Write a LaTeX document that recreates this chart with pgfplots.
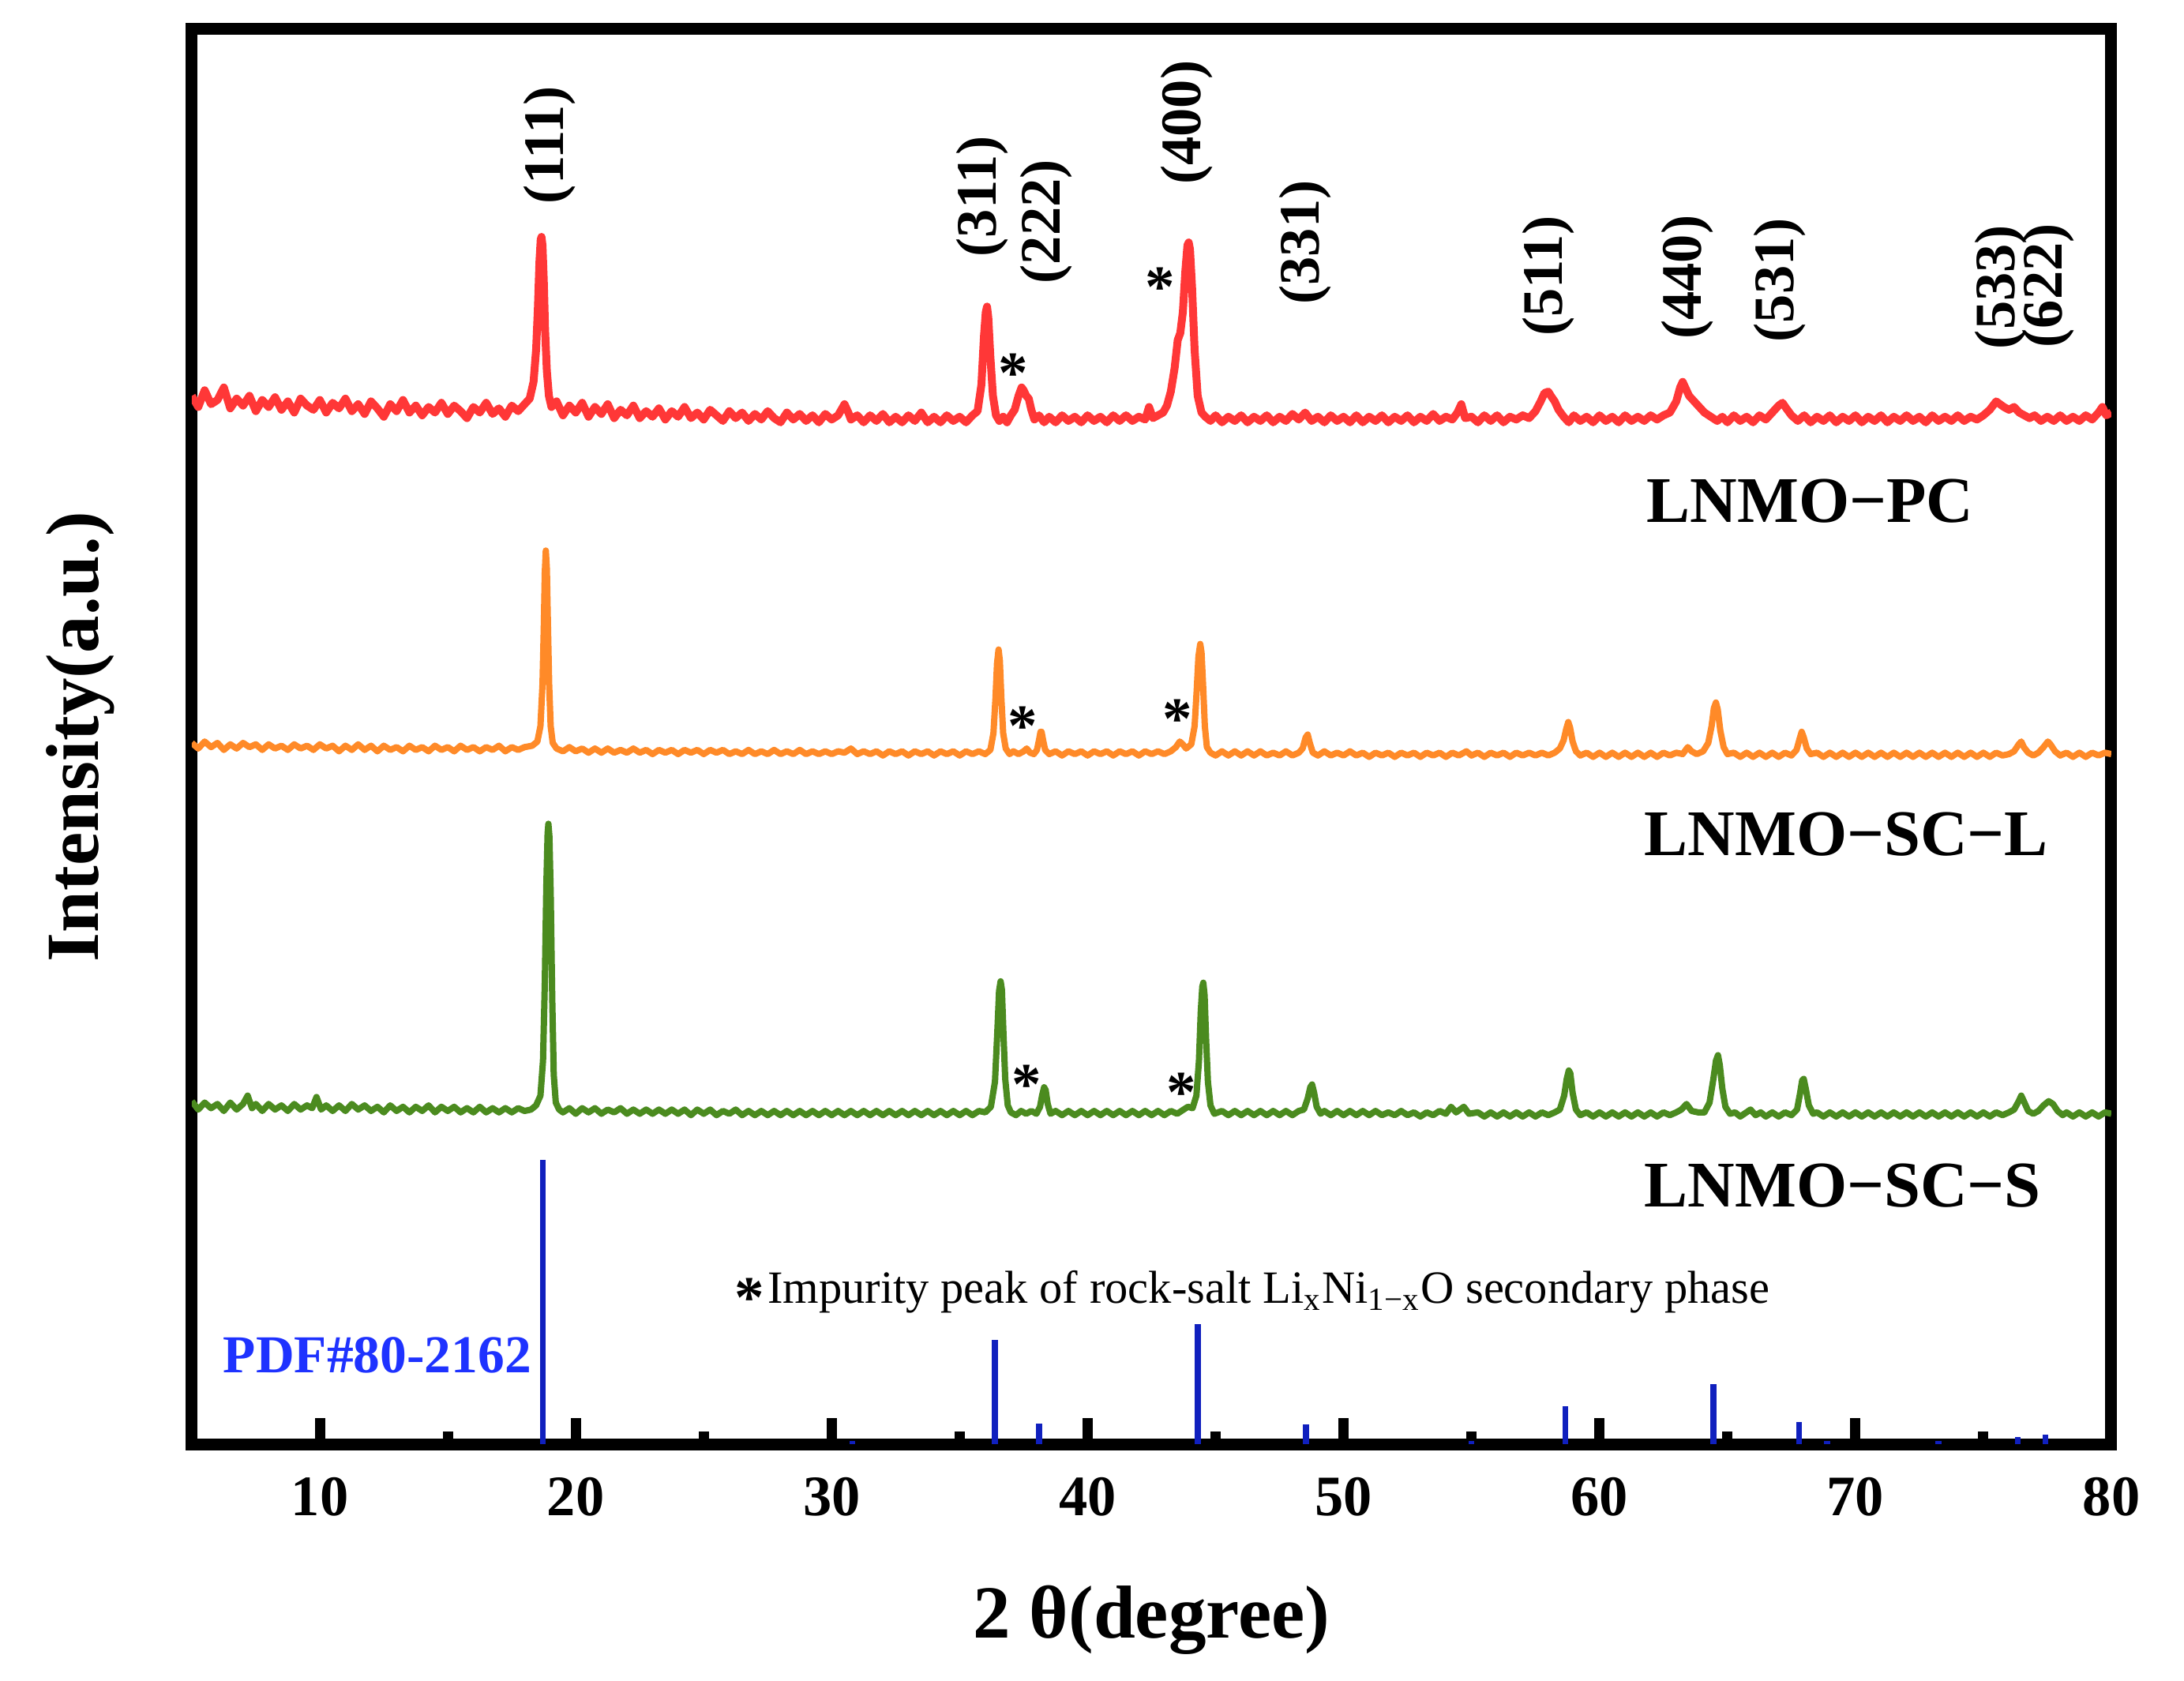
\documentclass[border=0pt]{standalone}
\usepackage{pgfplots}
\pgfplotsset{compat=1.18}
\usepackage{fontspec}
\setmainfont{Liberation Serif}
\definecolor{cred}{RGB}{255,55,55}
\definecolor{corange}{RGB}{255,138,40}
\definecolor{cgreen}{RGB}{75,139,31}
\definecolor{cstick}{RGB}{16,32,190}
\definecolor{cpdf}{RGB}{30,50,255}
\begin{document}
\begin{tikzpicture}
\path[use as bounding box] (-48.6pt,-59.8pt) rectangle (504.6pt,365.8pt);
\begin{axis}[
  scale only axis, width=486.2pt, height=358.4pt,
  xmin=5, xmax=80, ymin=0, ymax=1015,
  axis line style={line width=3pt},
  xtick={10,20,...,80}, minor xtick={15,25,...,75},
  ytick=\empty,
  tick align=inside, xtick pos=bottom,
  major tick length=6.6pt, minor tick length=3.2pt,
  every tick/.style={black, line width=2.6pt},
  /pgf/number format/assume math mode=true,
  xticklabel style={font=\fontsize{14.5}{17}\selectfont\bfseries, yshift=-5pt},
  xlabel={2 θ(degree)},
  xlabel style={font=\fontsize{19}{22}\selectfont\bfseries, at={(axis description cs:0.5,-0.1244)}, anchor=center},
  ylabel={Intensity(a.u.)},
  ylabel style={font=\fontsize{19}{22}\selectfont\bfseries, at={(axis description cs:-0.058,0.5)}, anchor=center},
  every axis plot/.append style={line join=round},
]
% PDF#80-2162 reference sticks
\addplot[ycomb, cstick, line width=1.5pt] coordinates {
(18.72,204)(30.8,2)(36.37,75)(38.1,15)(44.3,86)(48.53,14)(55.0,2)(58.67,27)(64.45,43)(67.8,16)(68.9,2)(73.25,2)(76.35,5)(77.42,7)};
% LNMO-SC-S (green)
\addplot[cgreen, line width=1.6pt] coordinates {
(5.00,246)(5.25,240)(5.50,245)(5.75,241)(6.00,244)(6.25,239)(6.50,245)(6.75,240)(7.00,244)(7.18,250)(7.35,241)(7.50,244)(7.75,239)(8.00,244)(8.25,240)(8.50,243)(8.75,239)(9.00,244)(9.25,240)(9.50,243)(9.70,241)(9.87,249)(10.05,240)(10.25,243)(10.50,239)(10.75,243)(11.00,239)(11.25,244)(11.50,240)(11.75,243)(12.00,239)(12.25,242)(12.50,238)(12.75,243)(13.00,239)(13.25,242)(13.50,238)(13.75,242)(14.00,239)(14.25,243)(14.50,238)(14.75,242)(15.00,239)(15.25,242)(15.50,238)(15.75,241)(16.00,238)(16.25,242)(16.50,238)(16.75,241)(17.00,238)(17.25,241)(17.50,238)(17.75,241)(18.00,239)(18.25,240)(18.45,243)(18.62,250)(18.72,275)(18.79,330)(18.85,400)(18.90,438)(18.93,445)(18.97,436)(19.02,395)(19.08,320)(19.14,265)(19.22,245)(19.35,240)(19.50,238)(19.75,241)(20.00,237)(20.25,241)(20.50,238)(20.75,241)(21.00,237)(21.25,240)(21.50,238)(21.75,241)(22.00,237)(22.25,240)(22.50,237)(22.75,240)(23.00,237)(23.25,240)(23.50,237)(23.75,240)(24.00,237)(24.25,240)(24.50,236)(24.75,240)(25.00,237)(25.25,240)(25.50,236)(25.75,239)(26.00,237)(26.25,240)(26.50,236)(26.75,239)(27.00,236)(27.25,239)(27.50,236)(27.75,239)(28.00,236)(28.25,239)(28.50,236)(28.75,239)(29.00,236)(29.25,239)(29.50,236)(29.75,239)(30.00,236)(30.25,239)(30.50,236)(30.75,239)(31.00,236)(31.25,239)(31.50,236)(31.75,239)(32.00,236)(32.25,239)(32.50,236)(32.75,239)(33.00,236)(33.25,239)(33.50,236)(33.75,239)(34.00,236)(34.25,239)(34.50,236)(34.75,239)(35.00,236)(35.25,239)(35.50,236)(35.75,239)(36.00,238)(36.22,242)(36.38,260)(36.47,295)(36.54,325)(36.60,332)(36.65,326)(36.71,295)(36.78,262)(36.88,243)(37.00,238)(37.20,236)(37.40,239)(37.60,237)(37.80,239)(38.00,237)(38.14,242)(38.22,250)(38.30,256)(38.36,254)(38.44,244)(38.55,237)(38.75,239)(39.00,236)(39.25,239)(39.50,236)(39.75,239)(40.00,236)(40.25,239)(40.50,236)(40.75,239)(41.00,236)(41.25,239)(41.50,236)(41.75,239)(42.00,236)(42.25,239)(42.50,236)(42.75,239)(43.00,236)(43.25,239)(43.50,237)(43.75,240)(43.92,242)(44.10,241)(44.25,250)(44.35,275)(44.42,310)(44.48,328)(44.52,331)(44.57,322)(44.63,290)(44.70,260)(44.80,243)(44.95,237)(45.25,239)(45.50,236)(45.75,239)(46.00,236)(46.25,239)(46.50,236)(46.75,239)(47.00,236)(47.25,239)(47.50,236)(47.75,239)(48.00,236)(48.25,239)(48.45,240)(48.60,248)(48.70,256)(48.77,258)(48.85,252)(48.95,242)(49.10,237)(49.25,239)(49.50,236)(49.75,239)(50.00,236)(50.25,239)(50.50,236)(50.75,239)(51.00,236)(51.25,239)(51.50,236)(51.75,238)(52.00,236)(52.25,239)(52.50,236)(52.75,238)(53.00,235)(53.25,238)(53.50,236)(53.75,239)(54.00,237)(54.20,242)(54.40,238)(54.70,242)(54.90,237)(55.25,238)(55.50,235)(55.75,238)(56.00,235)(56.25,238)(56.50,235)(56.75,238)(57.00,235)(57.25,238)(57.50,235)(57.75,238)(58.00,236)(58.25,238)(58.45,240)(58.62,250)(58.72,262)(58.80,268)(58.86,266)(58.95,252)(59.08,240)(59.25,236)(59.50,238)(59.75,235)(60.00,238)(60.25,235)(60.50,238)(60.75,235)(61.00,238)(61.25,235)(61.50,238)(61.75,235)(62.00,238)(62.25,235)(62.50,238)(62.75,236)(63.00,238)(63.20,240)(63.40,244)(63.60,239)(63.85,238)(64.10,238)(64.30,245)(64.45,262)(64.55,275)(64.63,279)(64.70,272)(64.80,255)(64.92,242)(65.10,237)(65.30,238)(65.50,235)(65.90,240)(66.10,236)(66.30,238)(66.50,235)(66.75,238)(67.00,235)(67.25,238)(67.50,236)(67.72,240)(67.84,252)(67.92,261)(67.98,262)(68.06,255)(68.18,243)(68.35,237)(68.50,238)(68.75,235)(69.00,238)(69.25,235)(69.50,238)(69.75,235)(70.00,238)(70.25,235)(70.50,238)(70.75,235)(71.00,238)(71.25,235)(71.50,238)(71.75,235)(72.00,238)(72.25,235)(72.50,238)(72.75,235)(73.00,238)(73.25,235)(73.50,238)(73.75,235)(74.00,238)(74.25,235)(74.50,238)(74.75,235)(75.00,238)(75.25,235)(75.50,238)(75.75,236)(76.00,238)(76.20,240)(76.38,246)(76.48,250)(76.58,246)(76.75,239)(76.95,237)(77.15,239)(77.35,243)(77.55,246)(77.72,244)(77.90,239)(78.10,236)(78.25,238)(78.50,235)(78.75,238)(79.00,235)(79.25,238)(79.50,235)(79.75,238)(80.00,237)};
% LNMO-SC-L (orange)
\addplot[corange, line width=1.6pt] coordinates {
(5.00,503)(5.25,499)(5.50,504)(5.75,500)(6.00,503)(6.25,498)(6.50,502)(6.75,499)(7.00,503)(7.25,500)(7.50,502)(7.75,498)(8.00,502)(8.25,499)(8.50,501)(8.75,498)(9.00,502)(9.25,499)(9.50,501)(9.75,498)(10.00,502)(10.25,499)(10.50,501)(10.75,497)(11.00,501)(11.25,498)(11.50,502)(11.75,498)(12.00,501)(12.25,497)(12.50,501)(12.75,498)(13.00,500)(13.25,497)(13.50,501)(13.75,498)(14.00,500)(14.25,497)(14.50,501)(14.75,498)(15.00,500)(15.25,497)(15.50,501)(15.75,498)(16.00,500)(16.25,497)(16.50,500)(16.75,498)(17.00,501)(17.25,497)(17.50,500)(17.75,498)(18.00,500)(18.30,501)(18.50,504)(18.62,515)(18.70,545)(18.75,585)(18.79,625)(18.83,641)(18.87,628)(18.91,590)(18.96,545)(19.02,515)(19.10,503)(19.25,499)(19.50,497)(19.75,500)(20.00,497)(20.25,499)(20.50,496)(20.75,499)(21.00,496)(21.25,499)(21.50,496)(21.75,498)(22.00,496)(22.25,499)(22.50,496)(22.75,498)(23.00,495)(23.25,498)(23.50,496)(23.75,498)(24.00,495)(24.25,498)(24.50,496)(24.75,498)(25.00,495)(25.25,498)(25.50,496)(25.75,498)(26.00,495)(26.25,497)(26.50,495)(26.75,498)(27.00,495)(27.25,497)(27.50,495)(27.75,498)(28.00,495)(28.25,497)(28.50,495)(28.75,498)(29.00,495)(29.25,497)(29.50,495)(29.75,497)(30.00,495)(30.25,497)(30.50,496)(30.75,499)(31.00,495)(31.25,497)(31.50,495)(31.75,497)(32.00,494)(32.25,497)(32.50,495)(32.75,497)(33.00,494)(33.25,497)(33.50,495)(33.75,497)(34.00,494)(34.25,497)(34.50,495)(34.75,497)(35.00,494)(35.25,497)(35.50,495)(35.75,497)(36.00,495)(36.20,498)(36.32,510)(36.40,535)(36.46,560)(36.52,570)(36.57,562)(36.63,535)(36.70,510)(36.80,499)(36.95,495)(37.10,497)(37.30,495)(37.50,497)(37.62,499)(37.75,496)(37.90,495)(38.02,498)(38.10,505)(38.16,511)(38.20,511)(38.26,505)(38.34,498)(38.50,495)(38.75,497)(39.00,494)(39.25,497)(39.50,495)(39.75,497)(40.00,494)(40.25,497)(40.50,495)(40.75,497)(41.00,494)(41.25,497)(41.50,495)(41.75,497)(42.00,494)(42.25,497)(42.50,495)(42.75,497)(43.00,495)(43.25,497)(43.45,500)(43.60,504)(43.72,502)(43.85,499)(44.05,502)(44.18,515)(44.26,540)(44.33,565)(44.40,574)(44.45,568)(44.51,545)(44.58,515)(44.66,500)(44.80,496)(45.00,494)(45.25,497)(45.50,494)(45.75,497)(46.00,494)(46.25,497)(46.50,494)(46.75,497)(47.00,494)(47.25,496)(47.50,494)(47.75,497)(48.00,494)(48.25,496)(48.40,499)(48.52,507)(48.60,509)(48.68,503)(48.80,496)(49.00,494)(49.25,497)(49.50,494)(49.75,496)(50.00,494)(50.25,497)(50.50,494)(50.75,496)(51.00,493)(51.25,496)(51.50,494)(51.75,496)(52.00,493)(52.25,496)(52.50,494)(52.75,496)(53.00,493)(53.25,496)(53.50,494)(53.75,496)(54.00,493)(54.25,496)(54.50,494)(54.80,497)(55.00,494)(55.25,496)(55.50,493)(55.75,496)(56.00,494)(56.25,496)(56.50,493)(56.75,496)(57.00,494)(57.25,496)(57.50,494)(57.75,496)(58.00,494)(58.25,496)(58.45,499)(58.60,505)(58.70,513)(58.78,518)(58.85,514)(58.95,504)(59.08,497)(59.25,494)(59.50,496)(59.75,493)(60.00,496)(60.25,493)(60.50,496)(60.75,493)(61.00,496)(61.25,493)(61.50,496)(61.75,493)(62.00,496)(62.25,493)(62.50,496)(62.75,494)(63.00,496)(63.25,495)(63.45,500)(63.60,497)(63.80,495)(64.05,497)(64.25,503)(64.38,515)(64.47,528)(64.55,532)(64.62,527)(64.72,512)(64.85,500)(65.00,495)(65.25,496)(65.50,493)(65.75,496)(66.00,493)(66.25,496)(66.50,493)(66.75,496)(67.00,493)(67.25,496)(67.50,494)(67.70,498)(67.82,506)(67.90,511)(67.98,507)(68.10,499)(68.25,495)(68.50,496)(68.75,493)(69.00,496)(69.25,493)(69.50,496)(69.75,493)(70.00,496)(70.25,493)(70.50,496)(70.75,493)(71.00,496)(71.25,493)(71.50,496)(71.75,493)(72.00,496)(72.25,493)(72.50,496)(72.75,493)(73.00,496)(73.25,493)(73.50,496)(73.75,493)(74.00,496)(74.25,493)(74.50,496)(74.75,493)(75.00,496)(75.25,493)(75.50,496)(75.75,494)(76.00,495)(76.20,497)(76.38,502)(76.48,504)(76.58,500)(76.75,496)(76.95,494)(77.15,496)(77.35,500)(77.52,504)(77.62,502)(77.80,497)(78.00,494)(78.25,496)(78.50,493)(78.75,496)(79.00,493)(79.25,496)(79.50,494)(79.75,496)(80.00,495)};
% LNMO-PC (red)
\addplot[cred, line width=2pt] coordinates {
(5.00,752)(5.25,744)(5.50,756)(5.75,746)(6.00,749)(6.25,758)(6.50,743)(6.75,750)(7.00,745)(7.25,752)(7.50,741)(7.75,749)(8.00,744)(8.25,751)(8.50,742)(8.75,748)(9.00,740)(9.25,750)(9.50,745)(9.75,742)(10.00,749)(10.25,740)(10.50,747)(10.75,743)(11.00,750)(11.25,741)(11.50,746)(11.75,739)(12.00,748)(12.25,743)(12.50,737)(12.75,746)(13.00,741)(13.25,749)(13.50,740)(13.75,745)(14.00,738)(14.25,744)(14.50,740)(14.75,747)(15.00,739)(15.25,745)(15.50,741)(15.75,736)(16.00,744)(16.25,740)(16.50,747)(16.75,739)(17.00,743)(17.25,737)(17.50,745)(17.75,741)(18.00,746)(18.20,750)(18.35,762)(18.45,785)(18.52,815)(18.58,848)(18.63,864)(18.66,866)(18.70,860)(18.75,835)(18.80,800)(18.87,770)(18.95,752)(19.05,744)(19.25,748)(19.50,738)(19.75,745)(20.00,740)(20.25,747)(20.50,737)(20.75,744)(21.00,739)(21.25,746)(21.50,736)(21.75,742)(22.00,738)(22.25,745)(22.50,736)(22.75,741)(23.00,737)(23.25,743)(23.50,735)(23.75,741)(24.00,737)(24.25,744)(24.50,736)(24.75,740)(25.00,735)(25.25,742)(25.50,738)(25.75,734)(26.00,741)(26.25,736)(26.50,740)(26.75,734)(27.00,739)(27.25,735)(27.50,741)(27.75,736)(28.00,733)(28.25,740)(28.50,735)(28.75,739)(29.00,734)(29.25,738)(29.50,733)(29.75,739)(30.00,735)(30.25,738)(30.50,746)(30.65,740)(30.75,735)(31.00,738)(31.25,733)(31.50,738)(31.75,734)(32.00,739)(32.25,733)(32.50,737)(32.75,733)(33.00,738)(33.25,734)(33.50,740)(33.75,733)(34.00,737)(34.25,733)(34.50,738)(34.75,734)(35.00,737)(35.25,733)(35.50,738)(35.70,741)(35.85,760)(35.95,795)(36.02,812)(36.07,816)(36.12,808)(36.20,780)(36.30,752)(36.42,738)(36.55,734)(36.70,737)(36.85,733)(37.00,738)(37.15,742)(37.30,752)(37.42,758)(37.50,756)(37.60,752)(37.70,750)(37.80,742)(37.92,735)(38.10,738)(38.30,733)(38.50,737)(38.75,733)(39.00,738)(39.25,734)(39.50,737)(39.75,733)(40.00,738)(40.25,734)(40.50,737)(40.75,733)(41.00,738)(41.25,734)(41.50,738)(41.75,734)(42.00,737)(42.25,735)(42.40,744)(42.55,736)(42.75,738)(42.95,740)(43.10,745)(43.25,755)(43.40,772)(43.52,792)(43.62,797)(43.72,812)(43.82,842)(43.90,860)(43.95,862)(44.00,857)(44.08,830)(44.18,785)(44.30,752)(44.45,740)(44.60,737)(44.80,734)(45.00,738)(45.25,733)(45.50,737)(45.75,734)(46.00,738)(46.25,733)(46.50,737)(46.75,734)(47.00,738)(47.25,733)(47.50,737)(47.75,734)(48.00,739)(48.25,735)(48.50,740)(48.75,734)(49.00,737)(49.25,733)(49.50,738)(49.75,734)(50.00,737)(50.25,733)(50.50,738)(50.75,733)(51.00,737)(51.25,734)(51.50,738)(51.75,733)(52.00,737)(52.25,734)(52.50,738)(52.75,733)(53.00,737)(53.25,734)(53.50,739)(53.75,734)(54.00,737)(54.25,735)(54.45,740)(54.60,746)(54.75,736)(55.00,737)(55.25,733)(55.50,738)(55.75,734)(56.00,738)(56.25,733)(56.50,737)(56.75,735)(57.00,738)(57.25,736)(57.50,741)(57.70,748)(57.85,754)(58.00,755)(58.10,752)(58.25,748)(58.40,742)(58.60,737)(58.80,733)(59.00,738)(59.25,734)(59.50,737)(59.75,733)(60.00,738)(60.25,734)(60.50,737)(60.75,733)(61.00,738)(61.25,734)(61.50,737)(61.75,734)(62.00,738)(62.25,735)(62.50,738)(62.75,740)(63.00,748)(63.15,758)(63.25,762)(63.35,758)(63.50,752)(63.70,748)(63.90,744)(64.10,740)(64.35,737)(64.60,734)(64.80,737)(65.00,733)(65.25,738)(65.50,734)(65.75,737)(66.00,733)(66.25,738)(66.50,735)(66.75,740)(67.00,745)(67.15,747)(67.30,743)(67.50,738)(67.75,734)(68.00,738)(68.25,733)(68.50,737)(68.75,734)(69.00,738)(69.25,733)(69.50,737)(69.75,734)(70.00,738)(70.25,733)(70.50,737)(70.75,734)(71.00,738)(71.25,733)(71.50,737)(71.75,734)(72.00,738)(72.25,734)(72.50,737)(72.75,733)(73.00,738)(73.25,734)(73.50,737)(73.75,734)(74.00,738)(74.25,734)(74.50,737)(74.75,735)(75.00,738)(75.25,742)(75.50,748)(75.65,746)(75.80,744)(76.00,742)(76.20,744)(76.40,740)(76.60,738)(76.80,736)(77.00,738)(77.25,734)(77.50,737)(77.75,734)(78.00,738)(78.25,734)(78.50,737)(78.75,734)(79.00,738)(79.25,735)(79.50,740)(79.65,744)(79.80,738)(80.00,740)};
% Miller indices
\begin{scope}[every node/.style={rotate=90, font=\fontsize{14.5}{17}\selectfont\bfseries, inner sep=0pt}]
\node at (axis cs:18.97,932) {(111)};
\node at (axis cs:35.88,895) {(311)};
\node at (axis cs:38.39,877) {(222)};
\node at (axis cs:43.88,948) {(400)};
\node at (axis cs:48.50,862) {(331)};
\node at (axis cs:58.02,838) {(511)};
\node at (axis cs:63.45,837) {(440)};
\node at (axis cs:67.04,835) {(531)};
\node at (axis cs:75.69,830) {(533)};
\node at (axis cs:77.54,831) {(622)};
\end{scope}
% asterisks
\begin{scope}[every node/.style={font=\fontsize{15}{17}\selectfont\bfseries, inner sep=0pt}]
\node at (axis cs:37.08,768) {*};
\node at (axis cs:42.84,830) {*};
\node at (axis cs:37.45,515) {*};
\node at (axis cs:43.50,520) {*};
\node at (axis cs:37.62,258) {*};
\node at (axis cs:43.66,252) {*};
\node at (axis cs:26.80,105) {*};
\end{scope}
\node[anchor=base west, inner sep=0pt, font=\fontsize{11.7}{14}\selectfont] at (axis cs:27.47,101) {Impurity peak of rock-salt Li\textsubscript{x}Ni\textsubscript{1−x}O secondary phase};
\begin{scope}[every node/.style={anchor=base west, inner sep=0pt, font=\fontsize{16.5}{19}\selectfont\bfseries}]
\node at (axis cs:61.82,661) {LNMO−PC};
\node at (axis cs:61.73,422) {LNMO−SC−L};
\node at (axis cs:61.73,170) {LNMO−SC−S};
\end{scope}
\node[anchor=base west, inner sep=0pt, text=cpdf, font=\fontsize{13.5}{16}\selectfont\bfseries] at (axis cs:6.2,51) {PDF\#80-2162};
\end{axis}
\end{tikzpicture}
\end{document}
